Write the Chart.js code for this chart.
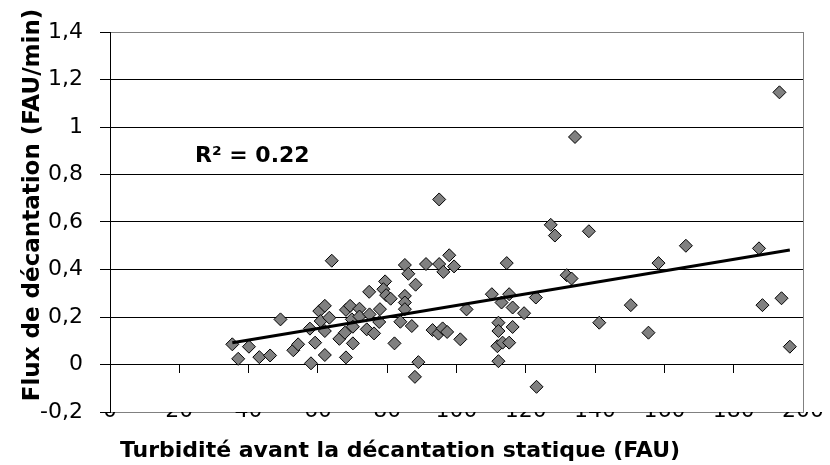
<!DOCTYPE html>
<html>
<head>
<meta charset="utf-8">
<script src="https://cdn.jsdelivr.net/npm/chart.js@4/dist/chart.umd.min.js"></script>
<style>
  html, body { margin: 0; padding: 0; background: #ffffff; }
  #wrap { width: 830px; height: 465px; }
</style>
</head>
<body>
<div id="wrap"><canvas id="c" width="830" height="465"></canvas></div>
<script>
// ---- Data ----
const turbidity = [35.3, 37.0, 40.1, 43.1, 46.2, 49.2, 52.9, 54.3, 57.7, 58.0, 59.2, 60.4, 60.8, 62.0, 62.0, 62.0, 63.3, 64.0,
  66.2, 67.8, 68.1, 68.1, 69.3, 69.8, 70.1, 70.1, 72.0, 72.0, 74.1, 74.8, 74.9, 76.2, 77.7, 77.9, 79.4, 78.9, 79.7, 81.0,
  82.1, 83.8, 85.1, 86.1, 88.2, 85.1, 85.1, 85.1, 87.1, 89.0, 88.0, 91.2, 93.1, 94.8, 95.0, 95.0, 96.2, 97.9, 99.3, 96.0,
  97.3, 101.1, 102.9, 110.2, 112.1, 112.1, 111.8, 113.3, 112.1, 113.0, 114.5, 115.2, 115.2, 116.2, 116.2, 119.5, 122.9,
  123.1, 127.2, 128.4, 131.8, 133.2, 134.2, 138.2, 141.2, 150.3, 155.4, 158.3, 166.2, 187.3, 188.3, 193.2, 193.8, 196.2];
const flux = [0.085, 0.024, 0.075, 0.031, 0.038, 0.19, 0.06, 0.085, 0.151, 0.005, 0.092, 0.225, 0.183, 0.247, 0.141, 0.04, 0.197, 0.437,
  0.108, 0.134, 0.23, 0.03, 0.247, 0.19, 0.089, 0.159, 0.235, 0.202, 0.148, 0.306, 0.211, 0.131, 0.179, 0.233, 0.35, 0.317, 0.292, 0.277,
  0.089, 0.18, 0.419, 0.382, 0.336, 0.289, 0.261, 0.233, 0.162, 0.01, -0.052, 0.423, 0.145, 0.13, 0.695, 0.423, 0.39, 0.46, 0.413, 0.152,
  0.137, 0.106, 0.232, 0.296, 0.176, 0.141, 0.077, 0.092, 0.014, 0.261, 0.427, 0.296, 0.092, 0.24, 0.158, 0.216, 0.282,
  -0.094, 0.588, 0.543, 0.376, 0.362, 0.958, 0.561, 0.176, 0.25, 0.134, 0.427, 0.5, 0.489, 0.25, 1.146, 0.279, 0.075];
// Linear trendline end points (as drawn in the reference)
const trendX = [35.3, 196.2];
const trendY = [0.092, 0.482];
const xTickLabels = ['0', '20', '40', '60', '80', '100', '120', '140', '160', '180', '200'];
const yTickLabels = ['-0,2', '0', '0,2', '0,4', '0,6', '0,8', '1', '1,2', '1,4'];
const xTitle = 'Turbidité avant la décantation statique (FAU)';
const yTitle = 'Flux de décantation (FAU/min)';
const r2Label = 'R² = 0.22';

const points = turbidity.map((x, i) => ({ x: x, y: flux[i] }));
const trend = trendX.map((x, i) => ({ x: x, y: trendY[i] }));

const FONT = "'DejaVu Sans', 'Liberation Sans', Arial, sans-serif";

const decor = {
  id: 'decor',
  beforeDatasetsDraw(chart) {
    const { ctx, chartArea: a } = chart;
    ctx.save();
    ctx.strokeStyle = '#808080';
    ctx.lineWidth = 1;
    ctx.beginPath();
    ctx.moveTo(Math.round(a.right) + 0.5, a.top);
    ctx.lineTo(Math.round(a.right) + 0.5, a.bottom);
    ctx.stroke();
    ctx.restore();
  },
  afterDraw(chart) {
    const { ctx } = chart;
    ctx.save();
    ctx.fillStyle = '#000';
    ctx.font = "bold 22px " + FONT;
    ctx.textAlign = 'center';
    ctx.textBaseline = 'alphabetic';
    ctx.fillText(xTitle, 400, 457);
    ctx.font = "bold 23px " + FONT;
    ctx.translate(39, 205);
    ctx.rotate(-Math.PI / 2);
    ctx.fillText(yTitle, 0, 0);
    ctx.restore();
    ctx.save();
    ctx.fillStyle = '#000';
    ctx.font = "bold 22px " + FONT;
    ctx.textAlign = 'left';
    ctx.textBaseline = 'alphabetic';
    ctx.fillText(r2Label, 195, 162);
    ctx.restore();
  }
};

new Chart(document.getElementById('c'), {
  type: 'scatter',
  data: {
    datasets: [
      {
        label: 'Flux',
        data: points,
        pointStyle: 'rectRot',
        pointRadius: 6.5,
        pointHoverRadius: 6.5,
        backgroundColor: '#808080',
        borderColor: '#000000',
        borderWidth: 1,
        order: 2
      },
      {
        label: 'Tendance',
        type: 'line',
        data: trend,
        borderColor: '#000000',
        borderWidth: 3,
        pointRadius: 0,
        fill: false,
        order: 1
      }
    ]
  },
  options: {
    responsive: false,
    animation: false,
    events: [],
    layout: { padding: { top: 32, right: 27, left: 0, bottom: 0 } },
    plugins: { legend: { display: false }, tooltip: { enabled: false } },
    scales: {
      x: {
        type: 'linear',
        position: 'bottom',
        min: 0, max: 200,
        afterFit(s) { s.height = 53; },
        afterBuildTicks(s) { s.ticks = xTickLabels.map(v => ({ value: Number(v) })); },
        ticks: {
          autoSkip: false,
          maxRotation: 0,
          padding: -14,
          color: '#000',
          font: { family: FONT, size: 22 },
          callback: (v, i) => xTickLabels[i]
        },
        grid: { display: false, drawTicks: false },
        border: { display: true, color: '#808080', width: 1 }
      },
      x2: {
        type: 'linear',
        position: { y: 0 },
        axis: 'x',
        min: 0, max: 200,
        afterBuildTicks(s) { s.ticks = xTickLabels.map(v => ({ value: Number(v) })); },
        ticks: { display: false },
        grid: { drawOnChartArea: false, drawTicks: true, tickLength: 8, tickColor: '#000', color: '#000' },
        border: { display: true, color: '#000', width: 1 }
      },
      y: {
        type: 'linear',
        position: 'left',
        min: -0.2, max: 1.4,
        afterFit(s) { s.width = 110; },
        afterBuildTicks(s) { s.ticks = yTickLabels.map(v => ({ value: Number(v.replace(',', '.')) })); },
        ticks: {
          padding: 17,
          color: '#000',
          font: { family: FONT, size: 22 },
          callback: (v, i) => yTickLabels[i]
        },
        grid: {
          drawTicks: true,
          tickLength: 10,
          tickColor: '#000',
          lineWidth: 1,
          color: (c) => (c.index === 0 || c.index === yTickLabels.length - 1) ? '#808080' : '#000000'
        },
        border: { display: true, color: '#000', width: 1 }
      }
    }
  },
  plugins: [decor]
});
</script>
</body>
</html>
